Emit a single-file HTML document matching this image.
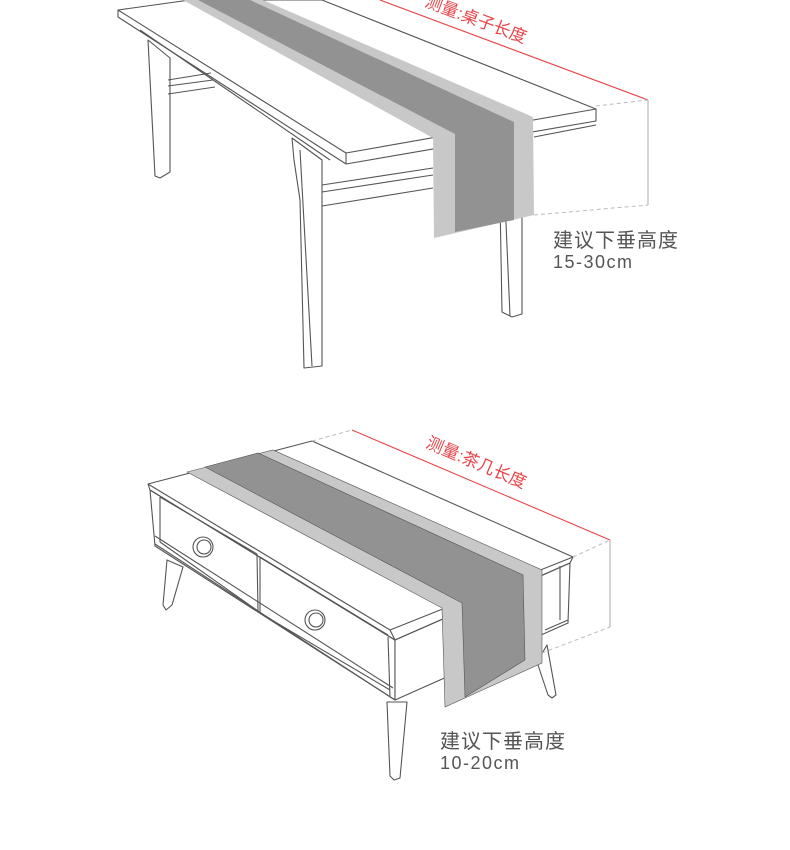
<!DOCTYPE html>
<html><head><meta charset="utf-8"><style>
html,body{margin:0;padding:0;background:#fff;}
svg{display:block}
text{font-family:"Liberation Sans","Noto Sans CJK SC",sans-serif;}
</style></head><body>
<svg width="790" height="850" viewBox="0 0 790 850" xmlns="http://www.w3.org/2000/svg">
<g fill="none" stroke="#555" stroke-width="1.1" stroke-linejoin="round">
<!-- TABLE 1 -->
<polygon fill="#fff" points="148,40 170,58 170,172 160,178 155,176"/>
<polygon fill="#fff" points="292,138 322,160 322,366 304,368 300,200 294,160"/>
<line x1="300" y1="150" x2="312" y2="366"/>
<polygon fill="#fff" points="500,200 522,196 522,314 512,317 502,312"/>
<line x1="505" y1="200" x2="510" y2="316"/>
<line x1="168" y1="80" x2="211" y2="73"/><line x1="168" y1="94" x2="215" y2="87"/><line x1="168" y1="86" x2="213" y2="80"/>
<line x1="322" y1="185" x2="433" y2="168"/><line x1="322" y1="206" x2="433" y2="188"/><line x1="322" y1="192" x2="433" y2="175"/>
<line x1="534" y1="137" x2="596" y2="125"/>
<polygon fill="#fff" points="118,10 190,0 322,0 596,109 346,153"/>
<polyline points="118,10 118,17 346,164 596,121 596,109"/>
<line x1="346" y1="153" x2="346" y2="164"/>
<line x1="140" y1="30" x2="330" y2="160"/>
</g>
<!-- runner 1 -->
<polygon fill="#c8c8c8" points="183,0 263,0 533,117 534,215 434,238 433,138"/>
<polygon fill="#929292" points="198,0 250,0 514,122 514,220 455,232 455,134"/>
<!-- measurement 1 -->
<line x1="380" y1="0" x2="648" y2="100" stroke="#e8454a" stroke-width="1.1"/>
<line x1="648" y1="100" x2="648" y2="205" stroke="#aaa" stroke-width="1"/>
<line x1="596" y1="106" x2="648" y2="100" stroke="#bbb" stroke-dasharray="4,3"/>
<line x1="534" y1="215" x2="648" y2="205" stroke="#bbb" stroke-dasharray="4,3"/>
<text x="0" y="0" font-size="17" fill="#e8454a" transform="translate(424,6) rotate(20.5)">测量:桌子长度</text>
<text x="553" y="247" font-size="20" fill="#555" letter-spacing="1">建议下垂高度</text>
<text x="553" y="268" font-size="18" fill="#555" letter-spacing="1.5">15-30cm</text>

<!-- TABLE 2 -->
<g fill="none" stroke="#555" stroke-width="1.1" stroke-linejoin="round">
<polygon fill="#fff" points="167,560 183,567 172,605 166,610 163,605"/>
<polygon fill="#fff" points="537,662 547,645 556,695 552,698 548,695"/>
<polygon fill="#fff" points="387,702 407,702 400,778 394,780 390,776"/>
<polygon fill="#fff" points="150,490 395,640 395,700 155,546"/>
<polygon fill="#fff" points="395,640 570,563 568,623 395,700"/>
<line x1="155" y1="536" x2="393" y2="688"/>
<line x1="155" y1="544" x2="395" y2="700"/>
<line x1="160" y1="497" x2="160" y2="542"/>
<line x1="160" y1="497" x2="257" y2="554"/>
<line x1="257" y1="554" x2="258" y2="611"/>
<line x1="260" y1="557" x2="260" y2="613"/>
<line x1="260" y1="557" x2="388" y2="635"/>
<line x1="160" y1="542" x2="258" y2="611"/>
<line x1="260" y1="613" x2="390" y2="690"/>
<line x1="388" y1="637" x2="390" y2="697"/>
<line x1="560" y1="566" x2="560" y2="620"/>
<line x1="545" y1="630" x2="568" y2="620"/>
<circle cx="203" cy="547" r="10"/><circle cx="204" cy="547" r="7"/>
<circle cx="315" cy="620" r="10"/><circle cx="316" cy="620" r="7"/>
<polygon fill="#fff" points="148,484 312,441 573,557 390,630"/>
<polyline points="148,484 150,490 395,640 570,563 573,557"/>
<line x1="390" y1="630" x2="395" y2="640"/>
</g>
<polygon fill="#c8c8c8" stroke="#555" stroke-width="0.6" points="187,472 273,450 542,570 542,663 445,707 442,608"/>
<polygon fill="#929292" stroke="#555" stroke-width="0.6" points="205,467 258,453 523,575 525,660 465,697 462,603"/>
<line x1="352" y1="430" x2="610" y2="540" stroke="#e8454a" stroke-width="1.1"/>
<line x1="610" y1="540" x2="610" y2="627" stroke="#aaa" stroke-width="1"/>
<line x1="312" y1="441" x2="352" y2="430" stroke="#bbb" stroke-dasharray="4,3"/>
<line x1="573" y1="557" x2="610" y2="540" stroke="#bbb" stroke-dasharray="4,3"/>
<line x1="542" y1="653" x2="610" y2="627" stroke="#bbb" stroke-dasharray="4,3"/>
<text x="0" y="0" font-size="17" fill="#e8454a" transform="translate(425,447) rotate(23)">测量:茶几长度</text>
<text x="440" y="748" font-size="20" fill="#555" letter-spacing="1">建议下垂高度</text>
<text x="440" y="769" font-size="18" fill="#555" letter-spacing="1.5">10-20cm</text>
</svg>
</body></html>
